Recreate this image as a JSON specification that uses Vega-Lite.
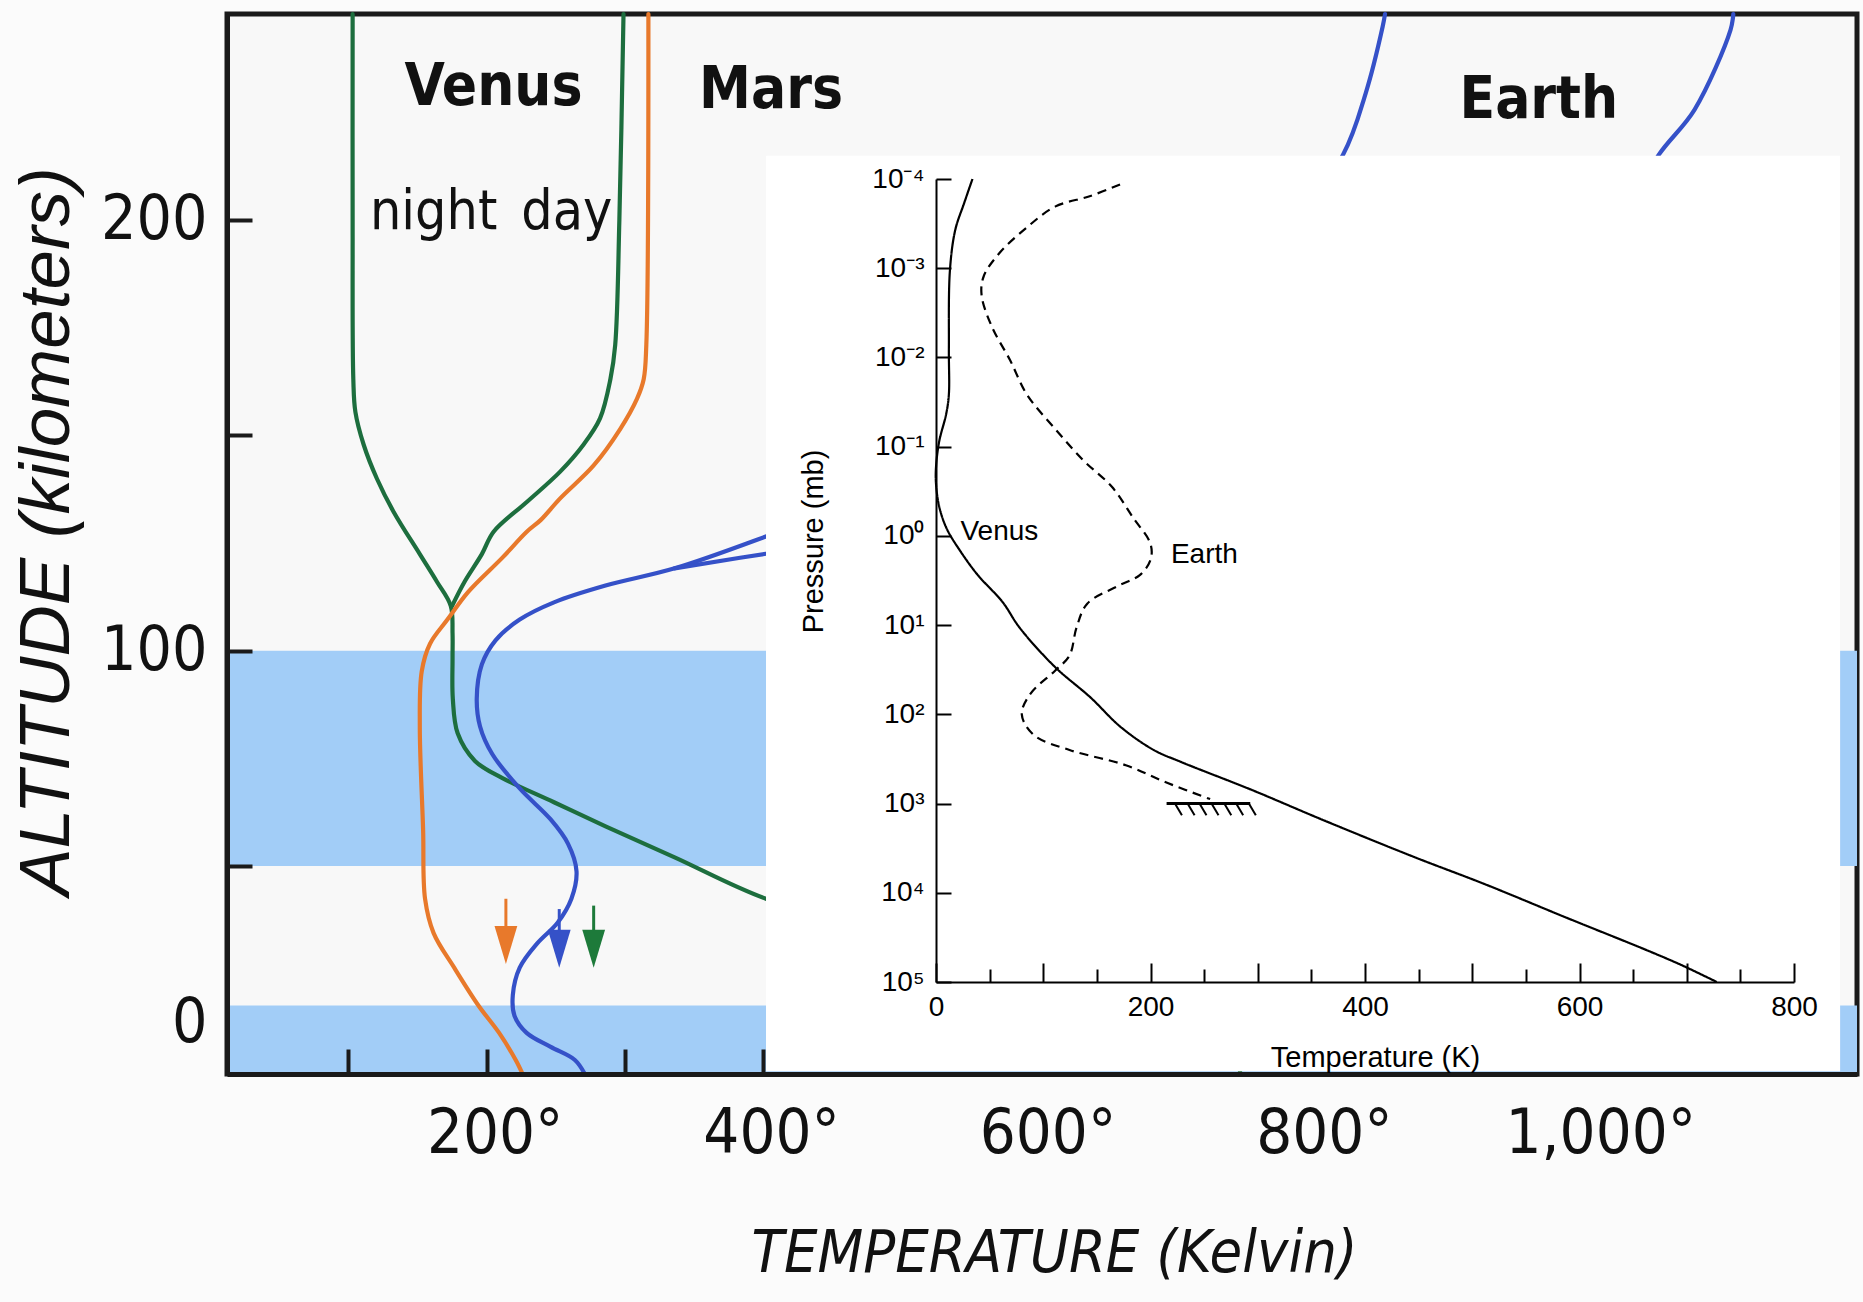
{
  "$schema": "https://vega.github.io/schema/vega-lite/v6.json",
  "width": 1630,
  "height": 1060,
  "autosize": {"type": "none"},
  "padding": {"left": 227, "top": 14, "right": 6, "bottom": 228},
  "background": "#fbfbfb",
  "config": {"view": {"stroke": "#1a1a1a", "strokeWidth": 5, "fill": "#f8f8f8"}},
  "datasets": {
    "bands": [{"alt": 50, "alt2": 100}, {"alt": -16.7, "alt2": 5.3}],
    "profiles": [
      {"s": "Venus night", "T": 103, "alt": 247.8}, {"s": "Venus night", "T": 103, "alt": 200}, {"s": "Venus night", "T": 103.5, "alt": 163}, {"s": "Venus night", "T": 105, "alt": 155.4}, {"s": "Venus night", "T": 111, "alt": 147.8}, {"s": "Venus night", "T": 120.6, "alt": 139.9}, {"s": "Venus night", "T": 132.7, "alt": 132.2}, {"s": "Venus night", "T": 151.6, "alt": 122.4}, {"s": "Venus night", "T": 164, "alt": 116}, {"s": "Venus night", "T": 174, "alt": 110.4}, {"s": "Venus night", "T": 175.3, "alt": 104}, {"s": "Venus night", "T": 175.3, "alt": 98.4}, {"s": "Venus night", "T": 175.5, "alt": 88.8}, {"s": "Venus night", "T": 179, "alt": 80.8}, {"s": "Venus night", "T": 191.5, "alt": 74.4}, {"s": "Venus night", "T": 211.4, "alt": 70.4}, {"s": "Venus night", "T": 248.7, "alt": 64.8}, {"s": "Venus night", "T": 286, "alt": 59.2}, {"s": "Venus night", "T": 336, "alt": 52}, {"s": "Venus night", "T": 402, "alt": 39.5}, {"s": "Venus night", "T": 480, "alt": 30}, {"s": "Venus night", "T": 600, "alt": 15}, {"s": "Venus night", "T": 737, "alt": 0}, {"s": "Venus night", "T": 745, "alt": -16.7},
      {"s": "Venus day", "T": 299, "alt": 247.8}, {"s": "Venus day", "T": 296, "alt": 200}, {"s": "Venus day", "T": 293, "alt": 171}, {"s": "Venus day", "T": 289.5, "alt": 163}, {"s": "Venus day", "T": 282, "alt": 153.9}, {"s": "Venus day", "T": 270, "alt": 147.8}, {"s": "Venus day", "T": 253, "alt": 141.5}, {"s": "Venus day", "T": 229, "alt": 134.5}, {"s": "Venus day", "T": 205, "alt": 127.6}, {"s": "Venus day", "T": 196.5, "alt": 122.4}, {"s": "Venus day", "T": 184, "alt": 116}, {"s": "Venus day", "T": 175, "alt": 110.4},
      {"s": "Mars", "T": 317, "alt": 247.8}, {"s": "Mars", "T": 315.5, "alt": 171}, {"s": "Mars", "T": 313.6, "alt": 163}, {"s": "Mars", "T": 308.8, "alt": 158.5}, {"s": "Mars", "T": 296.7, "alt": 151.5}, {"s": "Mars", "T": 277.4, "alt": 143}, {"s": "Mars", "T": 253, "alt": 135.3}, {"s": "Mars", "T": 239, "alt": 130.3}, {"s": "Mars", "T": 229, "alt": 127.6}, {"s": "Mars", "T": 211.4, "alt": 121.6}, {"s": "Mars", "T": 186.5, "alt": 113.6}, {"s": "Mars", "T": 171.6, "alt": 107.2}, {"s": "Mars", "T": 159, "alt": 101.6}, {"s": "Mars", "T": 153, "alt": 95.2}, {"s": "Mars", "T": 151.6, "alt": 82.3}, {"s": "Mars", "T": 154, "alt": 58.4}, {"s": "Mars", "T": 155.4, "alt": 39.5}, {"s": "Mars", "T": 161.6, "alt": 28.5}, {"s": "Mars", "T": 176.5, "alt": 17.4}, {"s": "Mars", "T": 194, "alt": 5.3}, {"s": "Mars", "T": 209, "alt": -3.5}, {"s": "Mars", "T": 221, "alt": -12.2}, {"s": "Mars", "T": 226, "alt": -16.7},
      {"s": "Earth", "T": 271, "alt": -16.7}, {"s": "Earth", "T": 263.8, "alt": -12.2}, {"s": "Earth", "T": 246.3, "alt": -8}, {"s": "Earth", "T": 228.9, "alt": -3.5}, {"s": "Earth", "T": 220.1, "alt": 2}, {"s": "Earth", "T": 218.9, "alt": 8.6}, {"s": "Earth", "T": 223.9, "alt": 17.4}, {"s": "Earth", "T": 236.4, "alt": 25.1}, {"s": "Earth", "T": 251.3, "alt": 31.8}, {"s": "Earth", "T": 261.3, "alt": 39.5}, {"s": "Earth", "T": 265, "alt": 48.3}, {"s": "Earth", "T": 258.8, "alt": 55.2}, {"s": "Earth", "T": 246.3, "alt": 60.8}, {"s": "Earth", "T": 223.9, "alt": 68}, {"s": "Earth", "T": 204, "alt": 76}, {"s": "Earth", "T": 195.2, "alt": 82.4}, {"s": "Earth", "T": 192.8, "alt": 88.8}, {"s": "Earth", "T": 196.5, "alt": 96.8}, {"s": "Earth", "T": 206.4, "alt": 102.4}, {"s": "Earth", "T": 223.9, "alt": 107.2}, {"s": "Earth", "T": 248.7, "alt": 111.2}, {"s": "Earth", "T": 286, "alt": 115.1}, {"s": "Earth", "T": 336, "alt": 119.1}, {"s": "Earth", "T": 402, "alt": 126.5}, {"s": "Earth", "T": 550, "alt": 145}, {"s": "Earth", "T": 680, "alt": 168}, {"s": "Earth", "T": 770, "alt": 193}, {"s": "Earth", "T": 819.6, "alt": 215.1}, {"s": "Earth", "T": 836, "alt": 229.4}, {"s": "Earth", "T": 848.3, "alt": 244.9}, {"s": "Earth", "T": 850, "alt": 247.8},
      {"s": "Earth high", "T": 336, "alt": 119.1}, {"s": "Earth high", "T": 402, "alt": 122.5}, {"s": "Earth high", "T": 600, "alt": 132}, {"s": "Earth high", "T": 800, "alt": 148}, {"s": "Earth high", "T": 950, "alt": 175}, {"s": "Earth high", "T": 1020, "alt": 200}, {"s": "Earth high", "T": 1048, "alt": 215.1}, {"s": "Earth high", "T": 1074, "alt": 225.6}, {"s": "Earth high", "T": 1100, "alt": 244.1}, {"s": "Earth high", "T": 1102, "alt": 247.8}
    ],
    "arrows": [
      {"s": "Mars", "T": 213.9, "top": 39.5, "bot": 27, "head": 24.7},
      {"s": "Earth", "T": 252.5, "top": 36.2, "bot": 26, "head": 23.5},
      {"s": "Venus", "T": 277.4, "top": 37.3, "bot": 26, "head": 23.5}
    ],
    "planetLabels": [
      {"label": "Venus", "T": 205, "alt": 226.6},
      {"label": "Mars", "T": 405.7, "alt": 225.9},
      {"label": "Earth", "T": 961.3, "alt": 223.6}
    ],
    "timeLabels": [
      {"label": "night", "T": 161.6, "alt": 198},
      {"label": "day", "T": 258, "alt": 198}
    ],
    "insetBox": [{"T": -158.5, "T2": 843, "p": 0.000055, "p2": 1000000}],
    "insetProfiles": [
      {"s": "Venus", "T": 34, "p": 0.0001}, {"s": "Venus", "T": 26, "p": 0.00019}, {"s": "Venus", "T": 18, "p": 0.00037}, {"s": "Venus", "T": 13, "p": 0.00105}, {"s": "Venus", "T": 12, "p": 0.0081}, {"s": "Venus", "T": 12, "p": 0.026}, {"s": "Venus", "T": 9.5, "p": 0.043}, {"s": "Venus", "T": 3, "p": 0.087}, {"s": "Venus", "T": 0, "p": 0.17}, {"s": "Venus", "T": 0, "p": 0.26}, {"s": "Venus", "T": 3, "p": 0.47}, {"s": "Venus", "T": 10, "p": 0.83}, {"s": "Venus", "T": 23, "p": 1.5}, {"s": "Venus", "T": 39, "p": 2.75}, {"s": "Venus", "T": 62, "p": 5.5}, {"s": "Venus", "T": 78, "p": 10.7}, {"s": "Venus", "T": 111, "p": 29.5}, {"s": "Venus", "T": 144, "p": 64.6}, {"s": "Venus", "T": 172, "p": 138}, {"s": "Venus", "T": 203, "p": 251}, {"s": "Venus", "T": 228, "p": 340}, {"s": "Venus", "T": 295, "p": 708}, {"s": "Venus", "T": 360, "p": 1514}, {"s": "Venus", "T": 446, "p": 3981}, {"s": "Venus", "T": 511, "p": 7943}, {"s": "Venus", "T": 590, "p": 19500}, {"s": "Venus", "T": 662, "p": 43650}, {"s": "Venus", "T": 695, "p": 64570}, {"s": "Venus", "T": 728, "p": 100000},
      {"s": "Earth", "T": 171.6, "p": 0.000115}, {"s": "Earth", "T": 144, "p": 0.000155}, {"s": "Earth", "T": 111, "p": 0.000204}, {"s": "Earth", "T": 84, "p": 0.000355}, {"s": "Earth", "T": 59, "p": 0.00068}, {"s": "Earth", "T": 44.5, "p": 0.00123}, {"s": "Earth", "T": 42.5, "p": 0.002}, {"s": "Earth", "T": 52, "p": 0.0045}, {"s": "Earth", "T": 69, "p": 0.0107}, {"s": "Earth", "T": 85, "p": 0.0263}, {"s": "Earth", "T": 111, "p": 0.063}, {"s": "Earth", "T": 137, "p": 0.141}, {"s": "Earth", "T": 164, "p": 0.282}, {"s": "Earth", "T": 183.5, "p": 0.617}, {"s": "Earth", "T": 200, "p": 1.23}, {"s": "Earth", "T": 200, "p": 1.86}, {"s": "Earth", "T": 190, "p": 2.75}, {"s": "Earth", "T": 170, "p": 3.63}, {"s": "Earth", "T": 141, "p": 5.75}, {"s": "Earth", "T": 131, "p": 10.7}, {"s": "Earth", "T": 124.5, "p": 21.9}, {"s": "Earth", "T": 111, "p": 32.4}, {"s": "Earth", "T": 88, "p": 58.9}, {"s": "Earth", "T": 80, "p": 100}, {"s": "Earth", "T": 91, "p": 170}, {"s": "Earth", "T": 124.5, "p": 251}, {"s": "Earth", "T": 177, "p": 372}, {"s": "Earth", "T": 216, "p": 589}, {"s": "Earth", "T": 255.6, "p": 891}
    ],
    "ground": [{"T": 215, "T2": 293, "p": 1000}],
    "hatch": [
      {"T": 222.8, "T2": 229.3, "p": 1000, "p2": 1350}, {"T": 234.6, "T2": 241.1, "p": 1000, "p2": 1350}, {"T": 245.7, "T2": 252.2, "p": 1000, "p2": 1350}, {"T": 256.9, "T2": 263.4, "p": 1000, "p2": 1350}, {"T": 268.8, "T2": 275.3, "p": 1000, "p2": 1350}, {"T": 279.9, "T2": 286.4, "p": 1000, "p2": 1350}, {"T": 291.7, "T2": 298.2, "p": 1000, "p2": 1350}
    ],
    "insetLabels": [
      {"label": "Venus", "T": 22.8, "p": 0.906},
      {"label": "Earth", "T": 219, "p": 1.62}
    ]
  },
  "layer": [
    {
      "layer": [
        {
          "data": {"name": "bands"},
          "mark": {"type": "rect", "color": "#a2cdf7"},
          "encoding": {
            "y": {"field": "alt", "type": "quantitative"},
            "y2": {"field": "alt2"}
          }
        },
        {
          "data": {"name": "profiles"},
          "mark": {"type": "line", "strokeWidth": 4.2, "strokeCap": "round", "strokeJoin": "round", "interpolate": "catmull-rom"},
          "encoding": {
            "x": {
              "field": "T", "type": "quantitative",
              "scale": {"domain": [12.1, 1191.5], "nice": false, "zero": false},
              "axis": {
                "orient": "bottom", "zindex": 1, "grid": false,
                "values": [100, 200, 300, 400, 500, 600, 700, 800, 900, 1000, 1100],
                "labelExpr": "datum.value % 200 === 0 ? format(datum.value, ',') + '\u00b0' : ''",
                "tickSize": -25, "tickWidth": 4, "tickColor": "#1a1a1a",
                "tickOpacity": {"condition": {"test": "datum.value > 450", "value": 0}, "value": 1},
                "domainColor": "#1a1a1a", "domainWidth": 5,
                "labelFont": "DejaVu Sans Condensed, sans-serif",
                "labelFontSize": 63, "labelColor": "#111111", "labelPadding": 53, "labelLimit": 600,
                "labelBaseline": "top", "labelOffset": 8, "labelFlush": false, "labelOverlap": false, "labelBound": false,
                "title": "TEMPERATURE (Kelvin)",
                "titleFont": "DejaVu Sans Condensed, sans-serif",
                "titleFontSize": 59, "titleFontStyle": "italic", "titleFontWeight": "normal", "titleColor": "#111111",
                "titleX": 827, "titleY": 179, "titleBaseline": "middle", "titleAlign": "center", "titleLimit": 2000
              }
            },
            "y": {
              "field": "alt", "type": "quantitative",
              "scale": {"domain": [-16.7, 0, 50, 247.8], "range": [1060, 1008, 852, 0], "nice": false, "zero": false},
              "axis": {
                "orient": "left", "zindex": 1, "grid": false,
                "values": [0, 50, 100, 150, 200],
                "labelExpr": "datum.value % 100 === 0 ? '' + datum.value : ''",
                "tickSize": -25, "tickWidth": 4, "tickColor": "#1a1a1a",
                "tickOpacity": {"condition": {"test": "datum.value === 0", "value": 0}, "value": 1},
                "domainColor": "#1a1a1a", "domainWidth": 5,
                "labelFont": "DejaVu Sans Condensed, sans-serif",
                "labelFontSize": 62, "labelColor": "#111111", "labelPadding": 45, "labelLimit": 600,
                "labelBaseline": "middle", "labelOverlap": false, "labelBound": false, "labelFlush": false,
                "title": "ALTITUDE (kilometers)",
                "titleFont": "Liberation Sans, Arial, sans-serif",
                "titleFontSize": 71, "titleFontStyle": "italic", "titleFontWeight": "normal", "titleColor": "#111111",
                "titleX": -180, "titleY": 517, "titleAngle": 270, "titleBaseline": "middle", "titleAlign": "center", "titleLimit": 2000
              }
            },
            "color": {
              "field": "s", "type": "nominal", "legend": null,
              "scale": {"domain": ["Venus night", "Venus day", "Venus", "Mars", "Earth", "Earth high"], "range": ["#1d6e3e", "#1d6e3e", "#1d7a3a", "#e8792b", "#3551c8", "#3551c8"]}
            },
            "detail": {"field": "s"},
            "order": {"value": null}
          }
        },
        {
          "data": {"name": "arrows"},
          "mark": {"type": "rule", "strokeWidth": 3},
          "encoding": {
            "x": {"field": "T", "type": "quantitative"},
            "y": {"field": "top", "type": "quantitative"},
            "y2": {"field": "bot"},
            "color": {"field": "s", "type": "nominal", "legend": null}
          }
        },
        {
          "data": {"name": "arrows"},
          "mark": {"type": "point", "filled": true, "opacity": 1, "size": 1444, "shape": "M-0.6,-1L0.6,-1L0,1Z"},
          "encoding": {
            "x": {"field": "T", "type": "quantitative"},
            "y": {"field": "head", "type": "quantitative"},
            "color": {"field": "s", "type": "nominal", "legend": null}
          }
        },
        {
          "data": {"name": "planetLabels"},
          "mark": {"type": "text", "font": "DejaVu Sans Condensed, sans-serif", "fontWeight": "bold", "fontSize": 58, "color": "#111111", "align": "center", "baseline": "alphabetic"},
          "encoding": {
            "x": {"field": "T", "type": "quantitative"},
            "y": {"field": "alt", "type": "quantitative"},
            "text": {"field": "label"}
          }
        },
        {
          "data": {"name": "timeLabels"},
          "mark": {"type": "text", "font": "DejaVu Sans Condensed, sans-serif", "fontSize": 55, "color": "#111111", "align": "center", "baseline": "alphabetic"},
          "encoding": {
            "x": {"field": "T", "type": "quantitative"},
            "y": {"field": "alt", "type": "quantitative"},
            "text": {"field": "label"}
          }
        }
      ]
    },
    {
      "layer": [
        {
          "data": {"name": "insetBox"},
          "mark": {"type": "rect", "color": "#ffffff"},
          "encoding": {
            "x": {"field": "T", "type": "quantitative"},
            "x2": {"field": "T2"},
            "y": {"field": "p", "type": "quantitative"},
            "y2": {"field": "p2"}
          }
        },
        {
          "data": {"name": "insetProfiles"},
          "mark": {"type": "line", "color": "#000000", "strokeWidth": 2.2, "interpolate": "catmull-rom"},
          "encoding": {
            "x": {
              "field": "T", "type": "quantitative",
              "scale": {"domain": [0, 800], "range": [709, 1567], "nice": false, "zero": false},
              "axis": {
                "orient": "bottom", "offset": -92, "zindex": 1, "grid": false,
                "values": [0, 50, 100, 150, 200, 250, 300, 350, 400, 450, 500, 550, 600, 650, 700, 750, 800],
                "labelExpr": "datum.value % 200 === 0 ? '' + datum.value : ''",
                "tickSize": {"condition": {"test": "datum.value % 100 === 0", "value": -19}, "value": -13},
                "tickWidth": 2, "tickColor": "#000000", "domainColor": "#000000", "domainWidth": 2,
                "labelFont": "Liberation Sans, Arial, sans-serif", "labelFontSize": 28, "labelColor": "#000000",
                "labelPadding": 30, "labelBaseline": "top", "labelFlush": false, "labelOverlap": false, "labelBound": false,
                "title": "Temperature (K)",
                "titleFont": "Liberation Sans, Arial, sans-serif", "titleFontSize": 29, "titleFontWeight": "normal", "titleColor": "#000000",
                "titleX": 1148, "titleY": 75, "titleBaseline": "middle", "titleAlign": "center"
              }
            },
            "y": {
              "field": "p", "type": "quantitative",
              "scale": {"type": "log", "domain": [0.0001, 100000], "range": [165, 968], "nice": false},
              "axis": {
                "orient": "left", "offset": -709, "zindex": 1, "grid": false,
                "values": [0.0001, 0.001, 0.01, 0.1, 1, 10, 100, 1000, 10000, 100000],
                "labelExpr": "'10' + ['\u207b\u2074','\u207b\u00b3','\u207b\u00b2','\u207b\u00b9','\u2070','\u00b9','\u00b2','\u00b3','\u2074','\u2075'][round(log(datum.value)/LN10) + 4]",
                "tickSize": -15, "tickWidth": 2, "tickColor": "#000000", "domainColor": "#000000", "domainWidth": 2,
                "labelFont": "Liberation Sans, Arial, sans-serif", "labelFontSize": 28, "labelColor": "#000000",
                "labelPadding": 27, "labelBaseline": "middle", "labelOverlap": false, "labelBound": false, "labelFlush": false,
                "title": "Pressure (mb)",
                "titleFont": "Liberation Sans, Arial, sans-serif", "titleFontSize": 29, "titleFontWeight": "normal", "titleColor": "#000000",
                "titleX": -123, "titleY": 527, "titleAngle": 270, "titleBaseline": "middle", "titleAlign": "center"
              }
            },
            "strokeDash": {
              "field": "s", "type": "nominal", "legend": null,
              "scale": {"domain": ["Venus", "Earth"], "range": [[1, 0], [9, 6]]}
            },
            "order": {"value": null}
          }
        },
        {
          "data": {"name": "ground"},
          "mark": {"type": "rule", "color": "#000000", "strokeWidth": 3},
          "encoding": {
            "x": {"field": "T", "type": "quantitative"},
            "x2": {"field": "T2"},
            "y": {"field": "p", "type": "quantitative"}
          }
        },
        {
          "data": {"name": "hatch"},
          "mark": {"type": "rule", "color": "#000000", "strokeWidth": 2},
          "encoding": {
            "x": {"field": "T", "type": "quantitative"},
            "x2": {"field": "T2"},
            "y": {"field": "p", "type": "quantitative"},
            "y2": {"field": "p2"}
          }
        },
        {
          "data": {"name": "insetLabels"},
          "mark": {"type": "text", "font": "Liberation Sans, Arial, sans-serif", "fontSize": 28, "color": "#000000", "align": "left", "baseline": "middle"},
          "encoding": {
            "x": {"field": "T", "type": "quantitative"},
            "y": {"field": "p", "type": "quantitative"},
            "text": {"field": "label"}
          }
        }
      ]
    }
  ],
  "resolve": {
    "scale": {"x": "independent", "y": "independent"},
    "axis": {"x": "independent", "y": "independent"}
  }
}
